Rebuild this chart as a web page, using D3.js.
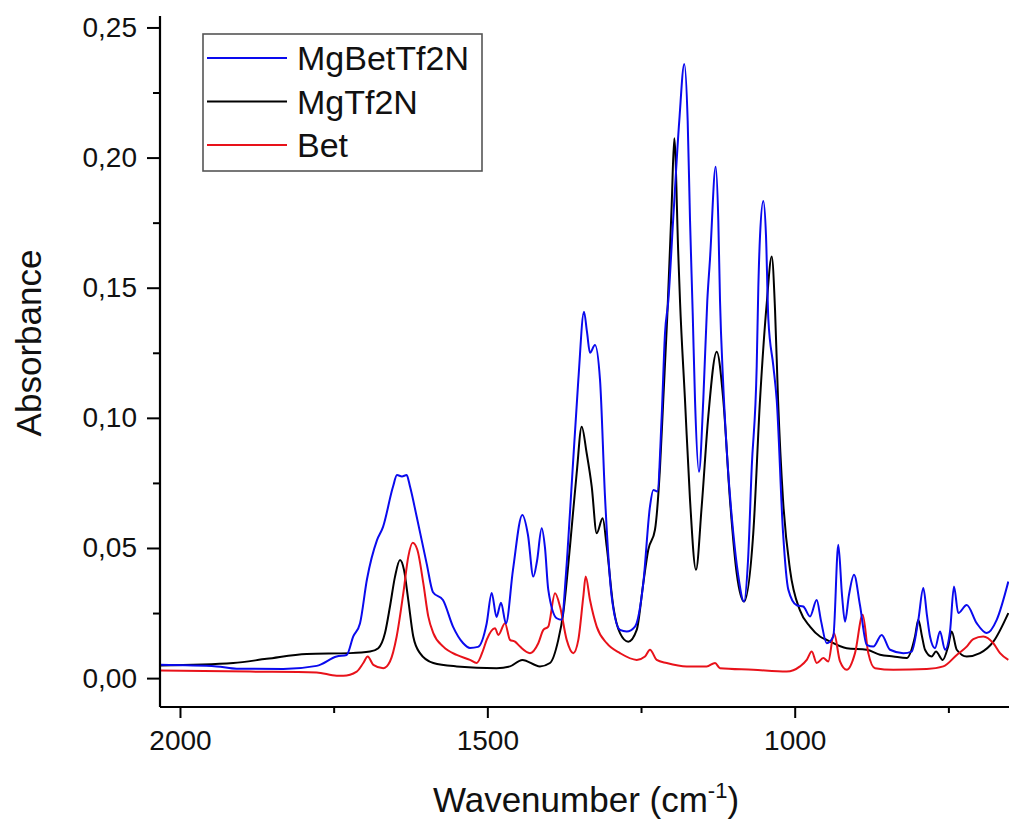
<!DOCTYPE html>
<html>
<head>
<meta charset="utf-8">
<script src="https://cdn.jsdelivr.net/npm/d3@7"></script>
<style>
  html, body { margin: 0; padding: 0; background: #fff; }
  svg { display: block; }
  text { font-family: "Liberation Sans", Arial, sans-serif; fill: #111; }
</style>
</head>
<body>
<svg id="chart" width="1009" height="820"></svg>
<script>
// ---- Data ----
const seriesNames = ["MgBetTf2N", "MgTf2N", "Bet"];
const seriesColors = ["#0a0aee", "#000000", "#e8121a"];

const wnBlue = [2032.5,1940.3,1907.8,1832,1777.6,1745.1,1728.8,1718.1,1707.2,1695.8,1679.5,1669.8,1653.5,1647.0,1638.9,1631.2,1625.8,1614.9,1598.7,1588.4,1572.2,1555.9,1539.6,1528.2,1515.2,1501.1,1492.9,1485.1,1477.8,1469.7,1458.3,1443.1,1433.9,1425.2,1419.2,1411.6,1406.2,1400.9,1387.2,1379.1,1372.1,1365.6,1352,1342.8,1337.9,1333.0,1324.9,1316.7,1308.6,1297.7,1284.2,1273.3,1259.8,1246.3,1235.4,1230.0,1223.5,1216.4,1211.0,1205.6,1198.0,1187.7,1179.6,1174.1,1170.3,1165.9,1162.2,1155.7,1148.7,1142.2,1137.8,1128.5,1124.3,1121.5,1116.7,1110.6,1099.9,1092.2,1082.5,1076.0,1069.9,1061.8,1059.2,1056.4,1051.1,1046.7,1042.9,1034.8,1029.3,1019.0,1010.4,996.7,986.0,975.1,964.2,957.2,947.9,937.2,929.1,923.1,918.2,911.7,903.5,893.8,882.9,872.1,858.5,845.0,823.3,809.7,798.9,790.8,784.8,779.9,771.8,763.6,755.5,747.4,740.9,733.9,720.2,704.0,687.6,671.4,652.5];
const absBlue = [0.0051,0.0045,0.0036,0.0035,0.0047,0.0083,0.0089,0.016,0.021,0.038,0.053,0.058,0.0735,0.078,0.0775,0.078,0.0736,0.062,0.044,0.033,0.030,0.0198,0.0135,0.0116,0.012,0.021,0.0327,0.0235,0.029,0.021,0.0416,0.0627,0.055,0.039,0.045,0.0576,0.050,0.034,0.023,0.0224,0.040,0.0635,0.1146,0.1408,0.133,0.125,0.128,0.1146,0.0697,0.0313,0.0185,0.0179,0.0198,0.0365,0.066,0.0723,0.0717,0.1005,0.1325,0.145,0.175,0.2144,0.236,0.214,0.176,0.14,0.107,0.0793,0.107,0.145,0.161,0.1965,0.176,0.145,0.115,0.0877,0.0557,0.040,0.0294,0.045,0.081,0.12,0.150,0.170,0.1833,0.17,0.138,0.12,0.107,0.056,0.034,0.028,0.0275,0.0237,0.030,0.022,0.0134,0.016,0.0512,0.032,0.0217,0.032,0.0397,0.028,0.0128,0.0121,0.0166,0.0109,0.0096,0.0102,0.0224,0.0346,0.024,0.016,0.0115,0.0179,0.0109,0.0179,0.0352,0.025,0.0281,0.0211,0.0173,0.0224,0.0371];

const wnBlack = [2032.5,1913.3,1859.0,1793.9,1723.4,1690.9,1677.4,1666.5,1658.4,1650.2,1642.1,1635.6,1628.6,1620.5,1609.6,1587.9,1549.9,1484.8,1463.2,1443.1,1414.4,1398.1,1384.6,1376.5,1365.6,1354.7,1346.5,1338.4,1330.2,1322.1,1312.4,1305.8,1295.1,1284.2,1270.7,1257.0,1246.3,1238.2,1227.3,1219.1,1213.8,1207.3,1200.1,1195.9,1189.4,1186.6,1178.5,1170.3,1160.6,1151.3,1140.6,1126.9,1116.2,1105.3,1094.4,1082.5,1067.4,1056.4,1045.5,1037.4,1032.0,1027.1,1019.0,1007.6,991.4,975.1,958.9,947.9,915.4,882.9,861.2,839.6,817.8,804.3,798.9,792.9,788.0,777.2,770.2,759.2,750.6,744.6,736.4,720.2,698.6,676.9,652.5];
const absBlack = [0.0048,0.0058,0.0074,0.0093,0.0096,0.0102,0.0115,0.0173,0.0275,0.039,0.0454,0.0416,0.030,0.016,0.0096,0.0058,0.0045,0.0038,0.0045,0.007,0.0045,0.0058,0.0147,0.025,0.0505,0.0787,0.0966,0.0864,0.0736,0.0557,0.0614,0.0505,0.0275,0.0173,0.014,0.0185,0.0365,0.0493,0.057,0.081,0.107,0.139,0.182,0.2074,0.163,0.145,0.107,0.0685,0.0416,0.066,0.1005,0.1254,0.107,0.0685,0.0403,0.0294,0.0557,0.107,0.144,0.162,0.1415,0.107,0.0685,0.0416,0.026,0.0198,0.016,0.0147,0.0115,0.0109,0.009,0.0083,0.0077,0.016,0.0224,0.016,0.0109,0.0083,0.0102,0.007,0.012,0.0179,0.0109,0.0083,0.0096,0.014,0.025];

const wnRed = [2032.5,1886.1,1777.6,1745.1,1734.3,1712.5,1701.8,1694.6,1685.5,1669.3,1658.4,1647.5,1636.7,1628.6,1621.4,1613.9,1604.2,1596.1,1587.9,1571.7,1549.9,1528.2,1517.3,1506.6,1501.1,1487.6,1482.2,1471.3,1463.2,1455.0,1446.9,1430.6,1417.1,1408.9,1400.9,1389.9,1381.8,1370.9,1360.2,1352.0,1343.9,1340.0,1333.0,1322.1,1305.8,1284.2,1257.0,1243.5,1235.4,1224.5,1208.2,1175.7,1143.2,1129.6,1121.5,1067.4,1013.0,991.4,980.4,972.3,964.2,953.5,945.4,936.1,926.3,915.4,901.9,889.4,880.3,869.3,839.6,785.3,758.3,736.4,720.2,709.5,693.2,676.9,666.0,652.5];
const absRed = [0.0029,0.0025,0.0022,0.0009,0.0009,0.0025,0.0058,0.0083,0.0051,0.0038,0.0064,0.016,0.0326,0.0467,0.052,0.0493,0.0365,0.0237,0.0173,0.0121,0.0089,0.007,0.0058,0.0109,0.0147,0.0192,0.0166,0.0211,0.0147,0.014,0.0121,0.0096,0.0134,0.0185,0.0198,0.0326,0.0275,0.0147,0.0096,0.0147,0.0313,0.039,0.030,0.0198,0.0134,0.0096,0.007,0.0083,0.0109,0.007,0.0058,0.0045,0.0045,0.0058,0.0038,0.0032,0.0025,0.0045,0.007,0.0102,0.0058,0.0077,0.0064,0.0173,0.0064,0.0032,0.0096,0.0243,0.0096,0.0038,0.0032,0.0035,0.0045,0.0089,0.0121,0.015,0.016,0.0134,0.0096,0.007];

const xMajorTicks = [2000, 1500, 1000];
const xMinorTicks = [1750, 1250, 750];
const yMajorTicks = [0.00, 0.05, 0.10, 0.15, 0.20, 0.25];
const yMinorTicks = [0.025, 0.075, 0.125, 0.175, 0.225];

const xTitle = "Wavenumber (cm";
const yTitle = "Absorbance";

// ---- Layout ----
const svg = d3.select("#chart");
const plotL = 160, plotR = 1009, plotT = 16, plotB = 707;

const x = d3.scaleLinear().domain([2032.5, 651.4]).range([plotL, plotR]);
const y = d3.scaleLinear().domain([-0.0111, 0.2544]).range([plotB, plotT]);

const fmt = v => d3.format(".2f")(v).replace(".", ",");

// Clip
svg.append("defs").append("clipPath").attr("id", "clip")
  .append("rect").attr("x", plotL).attr("y", plotT).attr("width", plotR - plotL).attr("height", plotB - plotT);

// Series
const series = [
  { wn: wnBlack, a: absBlack, color: seriesColors[1] },
  { wn: wnRed, a: absRed, color: seriesColors[2] },
  { wn: wnBlue, a: absBlue, color: seriesColors[0] }
];
const line = d3.line().x(d => x(d[0])).y(d => y(d[1])).curve(d3.curveMonotoneX);
const gLines = svg.append("g").attr("clip-path", "url(#clip)");
series.forEach(s => {
  const pts = s.wn.map((w, i) => [w, s.a[i]]);
  gLines.append("path").datum(pts)
    .attr("d", line).attr("fill", "none")
    .attr("stroke", s.color).attr("stroke-width", 2)
    .attr("stroke-linejoin", "round");
});

// Y axis
const yAxis = svg.append("g").attr("transform", `translate(${plotL},0)`)
  .call(d3.axisLeft(y).tickValues(yMajorTicks).tickFormat(fmt).tickSize(13).tickPadding(10));
svg.append("g").attr("transform", `translate(${plotL},0)`)
  .call(d3.axisLeft(y).tickValues(yMinorTicks).tickFormat("").tickSize(7))
  .call(g => g.select(".domain").remove());
// X axis
const xAxis = svg.append("g").attr("transform", `translate(0,${plotB})`)
  .call(d3.axisBottom(x).tickValues(xMajorTicks).tickFormat(d3.format("d")).tickSize(11).tickPadding(12));
svg.append("g").attr("transform", `translate(0,${plotB})`)
  .call(d3.axisBottom(x).tickValues(xMinorTicks).tickFormat("").tickSize(6))
  .call(g => g.select(".domain").remove());

svg.selectAll(".domain").attr("stroke", "#000").attr("stroke-width", 2.2);
svg.selectAll(".tick line").attr("stroke", "#000").attr("stroke-width", 2);
svg.selectAll(".tick text").attr("font-size", 28).attr("font-family", "Liberation Sans, Arial, sans-serif").attr("fill", "#111");
yAxis.select(".domain").attr("d", `M0,${plotB}V${plotT}`);
xAxis.select(".domain").attr("d", `M${plotL},0H${plotR}`);

// Axis titles
const xt = svg.append("text").attr("x", 586).attr("y", 812).attr("text-anchor", "middle")
  .attr("font-size", 35);
xt.append("tspan").text(xTitle);
xt.append("tspan").attr("font-size", 22).attr("dy", -14).text("-1");
xt.append("tspan").attr("dy", 14).text(")");

svg.append("text").attr("transform", "translate(41,343) rotate(-90)")
  .attr("text-anchor", "middle").attr("font-size", 35).text(yTitle);

// Legend
const lg = svg.append("g");
lg.append("rect").attr("x", 203).attr("y", 34).attr("width", 279).attr("height", 137)
  .attr("fill", "#fff").attr("stroke", "#555").attr("stroke-width", 1.6);
[0, 1, 2].forEach((k, i) => {
  const yy = 58 + i * 43.5;
  lg.append("line").attr("x1", 207).attr("x2", 287).attr("y1", yy).attr("y2", yy)
    .attr("stroke", seriesColors[k]).attr("stroke-width", 2);
  lg.append("text").attr("x", 297).attr("y", yy + 12).attr("font-size", 34).text(seriesNames[k]);
});
</script>
</body>
</html>
